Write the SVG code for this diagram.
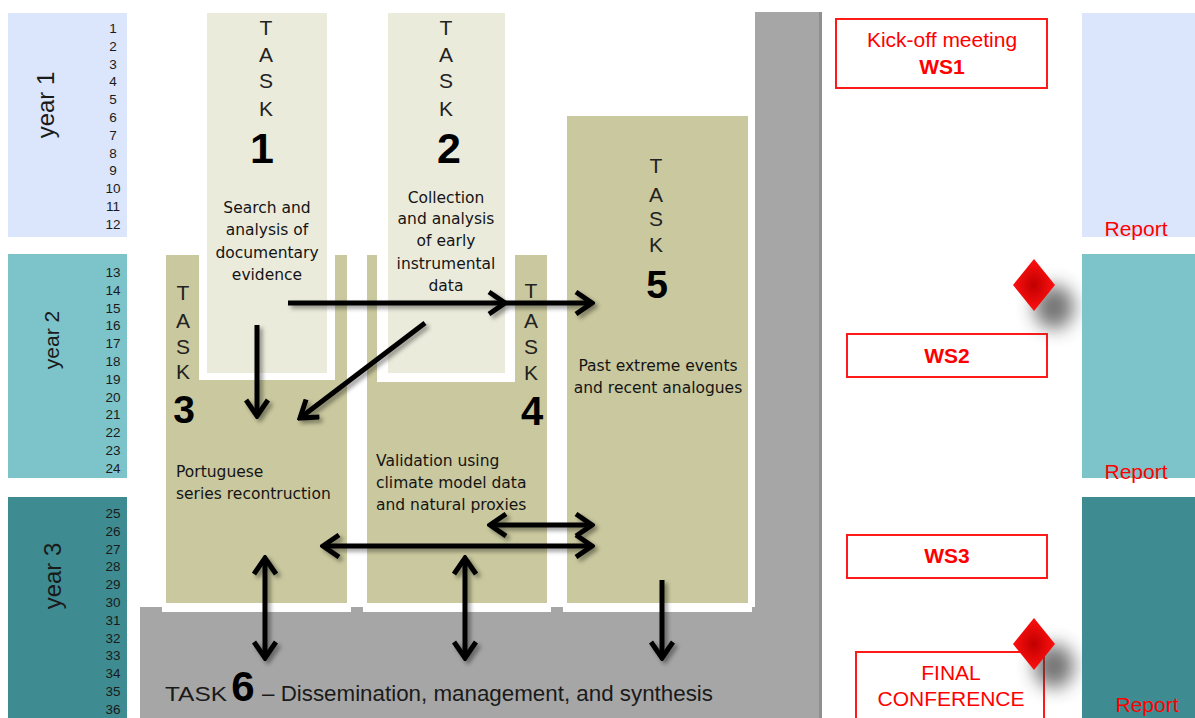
<svg xmlns="http://www.w3.org/2000/svg" width="1195" height="718" viewBox="0 0 1195 718">
  <defs>
    <style>
      .num { font-family: "Liberation Sans", Arial, sans-serif; font-size: 13.5px; fill: #1a1a1a; text-anchor: middle; }
      .year { font-family: "Liberation Sans", Arial, sans-serif; fill: #1a1a1a; text-anchor: middle; }
      .tl { font-family: "Liberation Sans", Arial, sans-serif; font-size: 21px; fill: #222; text-anchor: middle; }
      .tn { font-family: "Liberation Sans", Arial, sans-serif; font-weight: bold; fill: #000; text-anchor: middle; }
      .desc { font-family: "DejaVu Sans", sans-serif; font-size: 15.5px; fill: #141414; }
      .light { fill: #ebebdc; }
      .olive { fill: #c9c89e; }
      .gap { fill: #ffffff; }
      .ws { fill: #ffffff; stroke: #ff1a1a; stroke-width: 2; }
      .red { font-family: "Liberation Sans", Arial, sans-serif; font-size: 21px; fill: #ff0000; text-anchor: middle; }
      .arrow { fill: none; stroke: #000; stroke-width: 5; marker-end: url(#head); }
      .both { marker-start: url(#head); }
    </style>
    <marker id="head" viewBox="0 0 22 26" refX="19" refY="13" markerWidth="22" markerHeight="26" markerUnits="userSpaceOnUse" orient="auto-start-reverse">
      <path d="M3,2 L19,13 L3,24" fill="none" stroke="#000" stroke-width="5"/>
    </marker>
    <filter id="shadow" x="-20%" y="-20%" width="140%" height="140%">
      <feDropShadow dx="3" dy="3" stdDeviation="2" flood-color="#000" flood-opacity="0.4"/>
    </filter>
    <filter id="blur" x="-100%" y="-100%" width="300%" height="300%">
      <feGaussianBlur stdDeviation="9"/>
    </filter>
    <radialGradient id="gem" cx="0.5" cy="0.5" r="0.5">
      <stop offset="0" stop-color="#c00000"/>
      <stop offset="1" stop-color="#ff1010"/>
    </radialGradient>
  </defs>

  <rect width="1195" height="718" fill="#ffffff"/>

  <!-- month scale -->
  <g id="year1">
    <rect x="8" y="13" width="119" height="224" fill="#dbe5fb"/>
    <text class="year" font-size="24" transform="translate(54,105) rotate(-90)">year 1</text>
    <text class="num" x="113" y="33">1</text>
    <text class="num" x="113" y="50.8">2</text>
    <text class="num" x="113" y="68.6">3</text>
    <text class="num" x="113" y="86.4">4</text>
    <text class="num" x="113" y="104.2">5</text>
    <text class="num" x="113" y="122">6</text>
    <text class="num" x="113" y="139.8">7</text>
    <text class="num" x="113" y="157.6">8</text>
    <text class="num" x="113" y="175.4">9</text>
    <text class="num" x="113" y="193.2">10</text>
    <text class="num" x="113" y="211">11</text>
    <text class="num" x="113" y="228.8">12</text>
  </g>
  <g id="year2">
    <rect x="8" y="254" width="119" height="224" fill="#7cc4c9"/>
    <text class="year" font-size="21" transform="translate(59,340) rotate(-90)">year 2</text>
    <text class="num" x="113" y="277">13</text>
    <text class="num" x="113" y="294.8">14</text>
    <text class="num" x="113" y="312.6">15</text>
    <text class="num" x="113" y="330.4">16</text>
    <text class="num" x="113" y="348.2">17</text>
    <text class="num" x="113" y="366">18</text>
    <text class="num" x="113" y="383.8">19</text>
    <text class="num" x="113" y="401.6">20</text>
    <text class="num" x="113" y="419.4">21</text>
    <text class="num" x="113" y="437.2">22</text>
    <text class="num" x="113" y="455">23</text>
    <text class="num" x="113" y="472.8">24</text>
  </g>
  <g id="year3">
    <rect x="8" y="497" width="119" height="221" fill="#3e8c91"/>
    <text class="year" font-size="24" transform="translate(61,576) rotate(-90)">year 3</text>
    <text class="num" x="113" y="518">25</text>
    <text class="num" x="113" y="535.8">26</text>
    <text class="num" x="113" y="553.6">27</text>
    <text class="num" x="113" y="571.4">28</text>
    <text class="num" x="113" y="589.2">29</text>
    <text class="num" x="113" y="607">30</text>
    <text class="num" x="113" y="624.8">31</text>
    <text class="num" x="113" y="642.6">32</text>
    <text class="num" x="113" y="660.4">33</text>
    <text class="num" x="113" y="678.2">34</text>
    <text class="num" x="113" y="696">35</text>
    <text class="num" x="113" y="713.8">36</text>
  </g>

  <!-- task 6: L-shaped band under and beside the work packages -->
  <g id="task6">
    <rect x="140" y="607" width="682" height="111" fill="#a6a6a6"/>
    <rect x="755" y="12" width="67" height="706" fill="#a6a6a6"/>
    <rect x="819" y="12" width="3" height="706" fill="#8f8f8f"/>
    <text font-family="'Liberation Sans', Arial, sans-serif" font-size="21" fill="#1a1a1a" x="165" y="701" textLength="62" lengthAdjust="spacingAndGlyphs">TASK</text>
    <text class="tn" font-size="42" x="243" y="701">6</text>
    <text font-family="'Liberation Sans', Arial, sans-serif" font-size="22" fill="#1a1a1a" x="262" y="701" textLength="451" lengthAdjust="spacingAndGlyphs">– Dissemination, management, and synthesis</text>
  </g>

  <g id="task3">
    <rect class="gap" x="162" y="251" width="189" height="361"/>
    <rect class="olive" x="166" y="255" width="181" height="348"/>
    <text class="tl" x="183" y="300">T</text>
    <text class="tl" x="183" y="328">A</text>
    <text class="tl" x="183" y="354">S</text>
    <text class="tl" x="183" y="379">K</text>
    <text class="tn" font-size="39" x="184" y="423">3</text>
    <text class="desc" x="176" y="477">Portuguese</text>
    <text class="desc" x="176" y="499">series recontruction</text>
  </g>

  <g id="task4">
    <rect class="gap" x="363" y="251" width="188" height="361"/>
    <rect class="olive" x="367" y="255" width="180" height="348"/>
    <text class="tl" x="531" y="298">T</text>
    <text class="tl" x="531" y="328">A</text>
    <text class="tl" x="531" y="354">S</text>
    <text class="tl" x="531" y="380">K</text>
    <text class="tn" font-size="40" x="532" y="425">4</text>
    <text class="desc" x="376" y="466">Validation using</text>
    <text class="desc" x="376" y="488">climate model data</text>
    <text class="desc" x="376" y="510">and natural proxies</text>
  </g>

  <g id="task5">
    <rect class="gap" x="563" y="112" width="189" height="500"/>
    <rect class="olive" x="567" y="116" width="181" height="487"/>
    <text class="tl" x="656" y="173">T</text>
    <text class="tl" x="656" y="202">A</text>
    <text class="tl" x="656" y="226">S</text>
    <text class="tl" x="656" y="252">K</text>
    <text class="tn" font-size="39" x="657" y="298">5</text>
    <text class="desc" x="658" y="371" text-anchor="middle">Past extreme events</text>
    <text class="desc" x="658" y="393" text-anchor="middle">and recent analogues</text>
  </g>

  <g id="task1">
    <rect class="gap" x="199" y="250" width="136" height="130"/>
    <rect class="light" x="207" y="13" width="120" height="360"/>
    <text class="tl" x="266" y="35">T</text>
    <text class="tl" x="266" y="62">A</text>
    <text class="tl" x="266" y="88">S</text>
    <text class="tl" x="266" y="116">K</text>
    <text class="tn" font-size="43" x="262" y="163">1</text>
    <text class="desc" x="267" y="213" text-anchor="middle">Search and</text>
    <text class="desc" x="267" y="235" text-anchor="middle">analysis of</text>
    <text class="desc" x="267" y="258" text-anchor="middle">documentary</text>
    <text class="desc" x="267" y="280" text-anchor="middle">evidence</text>
  </g>

  <g id="task2">
    <rect class="gap" x="377" y="250" width="138" height="132"/>
    <rect class="light" x="388" y="13" width="117" height="360"/>
    <text class="tl" x="446" y="35">T</text>
    <text class="tl" x="446" y="62">A</text>
    <text class="tl" x="446" y="88">S</text>
    <text class="tl" x="446" y="116">K</text>
    <text class="tn" font-size="43" x="449" y="163">2</text>
    <text class="desc" x="446" y="203" text-anchor="middle">Collection</text>
    <text class="desc" x="446" y="224" text-anchor="middle">and analysis</text>
    <text class="desc" x="446" y="246" text-anchor="middle">of early</text>
    <text class="desc" x="446" y="269" text-anchor="middle">instrumental</text>
    <text class="desc" x="446" y="291" text-anchor="middle">data</text>
  </g>

  <!-- meetings and milestones -->
  <g id="ws1">
    <rect class="ws" x="836" y="19" width="211" height="69"/>
    <text class="red" x="942" y="47">Kick-off meeting</text>
    <text class="red" font-weight="bold" x="942" y="74">WS1</text>
  </g>
  <g id="ws2">
    <rect class="ws" x="847" y="334" width="200" height="43"/>
    <text class="red" font-weight="bold" x="947" y="363">WS2</text>
  </g>
  <g id="ws3">
    <rect class="ws" x="847" y="535" width="200" height="43"/>
    <text class="red" font-weight="bold" x="947" y="563">WS3</text>
  </g>
  <g id="final">
    <rect class="ws" x="856" y="652" width="188" height="80"/>
    <text class="red" x="951" y="680">FINAL</text>
    <text class="red" x="951" y="706">CONFERENCE</text>
  </g>
  <g id="milestone1">
    <ellipse cx="1054" cy="307" rx="20" ry="22" fill="#3a3a3a" opacity="0.7" filter="url(#blur)"/>
    <polygon points="1034,259 1055,285 1034,311 1013,285" fill="url(#gem)"/>
  </g>
  <g id="milestone2">
    <ellipse cx="1054" cy="666" rx="20" ry="22" fill="#3a3a3a" opacity="0.7" filter="url(#blur)"/>
    <polygon points="1034,618 1055,644 1034,670 1013,644" fill="url(#gem)"/>
  </g>

  <!-- reporting periods -->
  <g id="report1">
    <rect x="1082" y="13" width="113" height="224" fill="#dbe5fb"/>
    <text class="red" x="1136" y="236">Report</text>
  </g>
  <g id="report2">
    <rect x="1082" y="254" width="113" height="224" fill="#7cc4c9"/>
    <text class="red" x="1136" y="479">Report</text>
  </g>
  <g id="report3">
    <rect x="1082" y="497" width="113" height="221" fill="#3e8c91"/>
    <text class="red" fill="#e00000" x="1147" y="712">Report</text>
  </g>

  <!-- information flows between tasks -->
  <g id="connectors" filter="url(#shadow)">
    <path class="arrow" d="M288,303 L505,303"/>
    <path class="arrow" d="M505,303 L592,303"/>
    <path class="arrow" d="M257,325 L257,416"/>
    <path class="arrow" d="M425,323 L300,418"/>
    <path class="arrow both" d="M490,525 L592,525"/>
    <path class="arrow both" d="M323,546 L592,546"/>
    <path class="arrow both" d="M265,558 L265,658"/>
    <path class="arrow both" d="M465,558 L465,658"/>
    <path class="arrow" d="M662,580 L662,658"/>
  </g>
</svg>
